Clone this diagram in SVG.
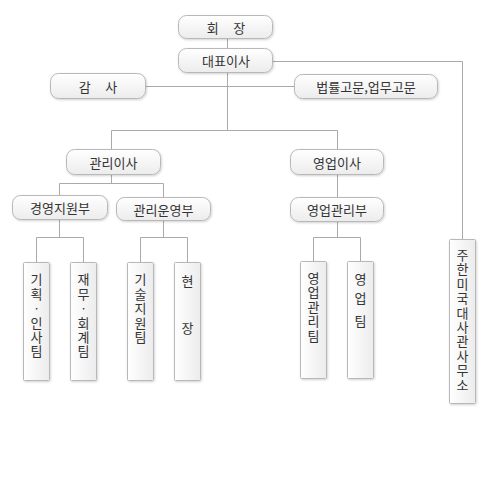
<svg xmlns="http://www.w3.org/2000/svg" width="488" height="483" viewBox="0 0 488 483">
<defs>
<linearGradient id="gv" x1="0" y1="0" x2="0" y2="1"><stop offset="0" stop-color="#ffffff"/><stop offset="1" stop-color="#ececec"/></linearGradient>
<linearGradient id="gh" x1="0" y1="0" x2="1" y2="0"><stop offset="0" stop-color="#ffffff"/><stop offset="1" stop-color="#ececec"/></linearGradient>
<filter id="sh" x="-20%" y="-20%" width="140%" height="140%"><feDropShadow dx="0.8" dy="1" stdDeviation="0.8" flood-color="#000" flood-opacity="0.18"/></filter>
<style>
.b{fill:url(#gv);stroke:#b8b8b8;stroke-width:1;filter:url(#sh)}
.t{fill:url(#gh);stroke:#b8b8b8;stroke-width:1;filter:url(#sh)}
text{font-family:"Noto Sans CJK KR","Noto Sans",sans-serif;font-size:13px;fill:#333;text-anchor:middle;dominant-baseline:central}
text.v{writing-mode:vertical-rl;text-anchor:start;letter-spacing:1.4px}
.c{fill:none;stroke:#aaaaaa;stroke-width:1}
</style>
</defs>
<rect width="488" height="483" fill="#fff"/>
<g id="connectors" class="c">
<path d="M227.5 39V48M227.5 73V130.5M111.5 130.5H337.5M111.5 130.5V149M337.5 130.5V149"/>
<path d="M146 86.5H294"/>
<path d="M273 61.5H462.5V239"/>
<path d="M111.5 175V183.5M59.5 183.5H163.5M59.5 183.5V195M163.5 183.5V197"/>
<path d="M337.5 175V197"/>
<path d="M59.5 220V237.5M36.5 237.5H83.5M36.5 237.5V262M83.5 237.5V262"/>
<path d="M163.5 221V237.5M140.5 237.5H187.5M140.5 237.5V262M187.5 237.5V262"/>
<path d="M337.5 222V237.5M313.5 237.5H360.5M313.5 237.5V261M360.5 237.5V261"/>
</g>
<g id="n-chairman"><rect class="b" x="178.5" y="15.5" width="94" height="23" rx="8"/><text x="226" y="27">회&#160;&#160;&#160;&#160;&#160;장</text></g>
<g id="n-ceo"><rect class="b" x="178.5" y="48.5" width="94" height="24" rx="8"/><text x="226" y="60.5">대표이사</text></g>
<g id="n-audit"><rect class="b" x="50.5" y="73.5" width="95" height="25" rx="8"/><text x="98" y="86">감&#160;&#160;&#160;&#160;&#160;사</text></g>
<g id="n-legal"><rect class="b" x="294.5" y="74.5" width="143" height="24" rx="8"/><text x="366" y="86.5">법률고문,업무고문</text></g>
<g id="n-mgmt"><rect class="b" x="66.5" y="149.5" width="94" height="25" rx="8"/><text x="113.5" y="162">관리이사</text></g>
<g id="n-sales"><rect class="b" x="290.5" y="149.5" width="93" height="25" rx="8"/><text x="337" y="162">영업이사</text></g>
<g id="n-mgmtsupport"><rect class="b" x="12.5" y="195.5" width="95" height="24" rx="8"/><text x="60" y="207.5">경영지원부</text></g>
<g id="n-mgmtops"><rect class="b" x="116.5" y="197.5" width="94" height="23" rx="8"/><text x="163.5" y="209">관리운영부</text></g>
<g id="n-salesmgmt"><rect class="b" x="290.5" y="197.5" width="93" height="24" rx="8"/><text x="337" y="209.5">영업관리부</text></g>
<g id="n-plan"><rect class="t" x="23.5" y="262.5" width="26" height="118" rx="1"/><text class="v" x="36.5" y="273">기획ㆍ인사팀</text></g>
<g id="n-finance"><rect class="t" x="70.5" y="262.5" width="26" height="118" rx="1"/><text class="v" x="83.5" y="273">재무ㆍ회계팀</text></g>
<g id="n-tech"><rect class="t" x="127.5" y="262.5" width="26" height="118" rx="1"/><text class="v" x="140.5" y="273">기술지원팀</text></g>
<g id="n-site"><rect class="t" x="174.5" y="262.5" width="26" height="118" rx="1"/><text x="187.5" y="280">현</text><text x="187.5" y="327">장</text></g>
<g id="n-salesteam-mgmt"><rect class="t" x="300.5" y="261.5" width="26" height="117" rx="1"/><text class="v" x="313.5" y="271.5">영업관리팀</text></g>
<g id="n-salesteam"><rect class="t" x="347.5" y="261.5" width="26" height="117" rx="1"/><text x="360.5" y="278">영</text><text x="360.5" y="297">업</text><text x="360.5" y="320">팀</text></g>
<g id="n-usembassy"><rect class="t" x="449.5" y="239.5" width="26" height="164" rx="1"/><text class="v" x="462.5" y="248.5">주한미국대사관사무소</text></g>
</svg>
